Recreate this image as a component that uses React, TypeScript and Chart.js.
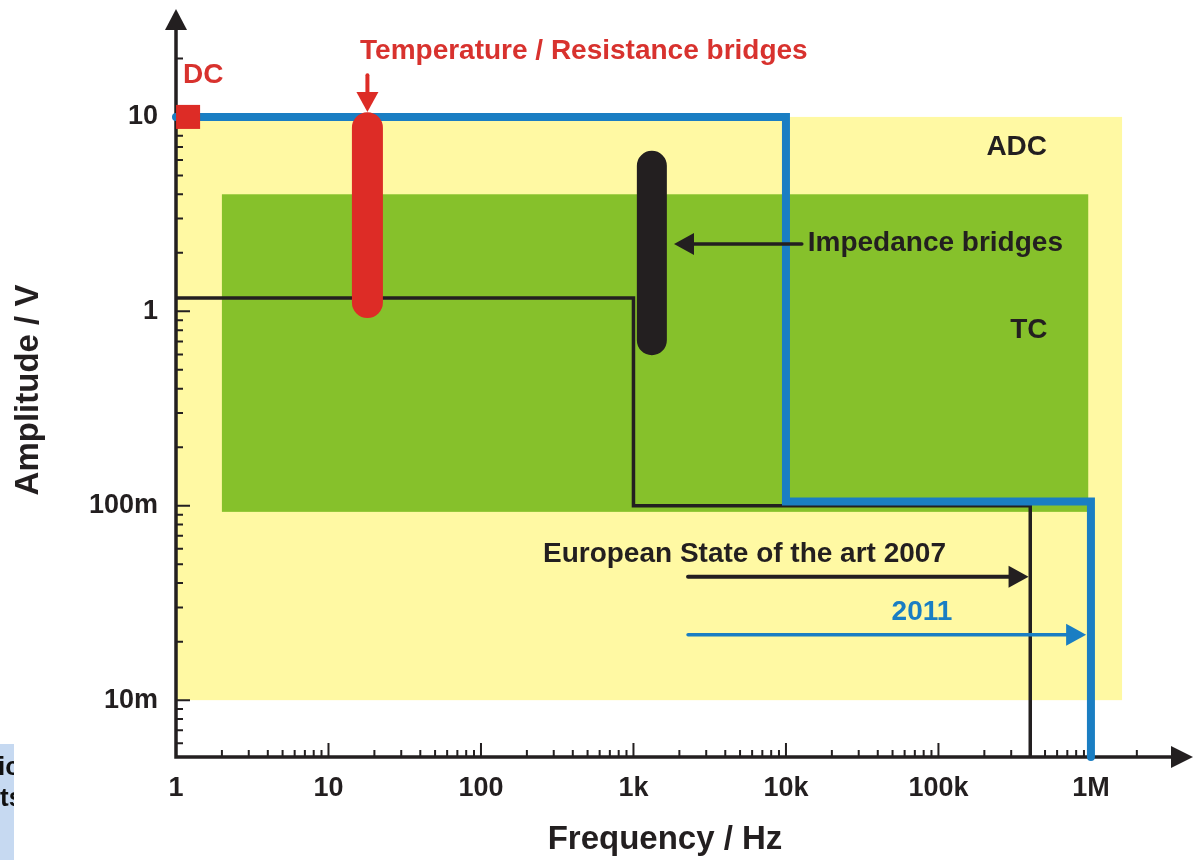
import React, { useEffect, useRef } from 'react';
import { Chart, registerables } from 'chart.js';

Chart.register(...registerables);

const FONT = '"Liberation Sans", Arial, Helvetica, sans-serif';
const INK = '#231f20';
const RED = '#dd2c26';
const RED_TEXT = '#d8322e';
const BLUE = '#1a7ec3';
const YELLOW = '#fff9a3';
const GREEN = '#86c12b';

// Axes
const xTickValues = [1, 10, 100, 1e3, 1e4, 1e5, 1e6];
const xTickLabels = ['1', '10', '100', '1k', '10k', '100k', '1M'];
const yTickValues = [0.01, 0.1, 1, 10];
const yTickLabels = ['10m', '100m', '1', '10'];
const xRange = [1, 4.67e6];
const yRange = [0.0051, 35.9];

// Regions (frequency / amplitude extents)
const adcFreq = [1, 1.6e6];
const adcAmp = [0.01, 10];
const tcFreq = [2, 0.96e6];
const tcAmp = [0.093, 4];

// Capability limits (step lines)
const limit2011Freq = [1, 1e4, 1e4, 1e6, 1e6];
const limit2011Amp = [10, 10, 0.105, 0.105, yRange[0]];
const limit2007Freq = [1, 1e3, 1e3, 4e5, 4e5];
const limit2007Amp = [1.17, 1.17, 0.1, 0.1, yRange[0]];

// Bridges and DC
const tempBridgeFreq = [18, 18];
const tempBridgeAmp = [8.8, 1.11];
const impBridgeFreq = [1320, 1320];
const impBridgeAmp = [5.6, 0.71];
const dcFreq = [1.2];
const dcAmp = [10];

// Annotation texts anchored in data coordinates
const noteTexts = ['Temperature / Resistance bridges', 'DC', 'ADC', 'Impedance bridges', 'TC', 'European State of the art 2007', '2011'];
const noteFreq = [16.1, 1.11, 3.26e5, 1.39e4, 3.92e5, 255, 7.8e4];
const noteAmp = [21.8, 16.4, 6.97, 2.24, 0.8, 0.0565, 0.0282];
const noteAlign: CanvasTextAlign[] = ['left', 'left', 'center', 'left', 'center', 'left', 'center'];
const noteColor = [RED_TEXT, RED_TEXT, INK, INK, INK, INK, BLUE];

// Arrows: from (freq, amp) to (freq, amp)
const arrowFromFreq = [18, 1.27e4, 2.28e3, 2.28e3];
const arrowFromAmp = [16.4, 2.22, 0.0431, 0.0217];
const arrowToFreq = [18, 1845, 3.9e5, 9.3e5];
const arrowToAmp = [10.6, 2.22, 0.0431, 0.0217];
const arrowColor = [RED, INK, INK, BLUE];
const arrowWidth = [4, 3.5, 4, 3.5];

const pts = (xs: number[], ys: number[]) => xs.map((x, i) => ({ x, y: ys[i] }));

const zeroPad = (s: any) => {
  s.paddingTop = 0;
  s.paddingBottom = 0;
  s.paddingLeft = 0;
  s.paddingRight = 0;
};

const decor = {
  id: 'decor',
  beforeDatasetsDraw(chart: any) {
    const { ctx, chartArea, scales } = chart;
    const { left, right, top, bottom } = chartArea;
    const x = scales.x;
    const y = scales.y;
    ctx.save();
    const rect = (fx: number[], fa: number[], color: string) => {
      const x1 = x.getPixelForValue(fx[0]);
      const x2 = x.getPixelForValue(fx[1]);
      const y1 = y.getPixelForValue(fa[1]);
      const y2 = y.getPixelForValue(fa[0]);
      ctx.fillStyle = color;
      ctx.fillRect(x1, y1, x2 - x1, y2 - y1);
    };
    rect(adcFreq, adcAmp, YELLOW);
    rect(tcFreq, tcAmp, GREEN);

    ctx.strokeStyle = INK;
    ctx.fillStyle = INK;
    ctx.lineWidth = 3.5;
    ctx.lineJoin = 'miter';
    ctx.beginPath();
    ctx.moveTo(left, top + 18);
    ctx.lineTo(left, bottom);
    ctx.lineTo(right - 18, bottom);
    ctx.stroke();
    ctx.beginPath();
    ctx.moveTo(left, top);
    ctx.lineTo(left - 11, top + 21);
    ctx.lineTo(left + 11, top + 21);
    ctx.closePath();
    ctx.fill();
    ctx.beginPath();
    ctx.moveTo(right, bottom);
    ctx.lineTo(right - 22, bottom - 11);
    ctx.lineTo(right - 22, bottom + 11);
    ctx.closePath();
    ctx.fill();

    ctx.lineWidth = 2;
    ctx.beginPath();
    for (let d = -4; d <= 8; d++) {
      for (let m = 1; m <= 9; m++) {
        const v = m * Math.pow(10, d);
        const len = m === 1 ? 14 : 7;
        const px = x.getPixelForValue(v);
        if (px > left + 0.5 && px < right - 35) {
          ctx.moveTo(px, bottom);
          ctx.lineTo(px, bottom - len);
        }
        const py = y.getPixelForValue(v);
        if (py > top + 26 && py < bottom - 3) {
          ctx.moveTo(left, py);
          ctx.lineTo(left + len, py);
        }
      }
    }
    ctx.stroke();
    ctx.restore();
  },
  afterDatasetsDraw(chart: any) {
    const { ctx, scales } = chart;
    const x = scales.x;
    const y = scales.y;
    ctx.save();
    for (let i = 0; i < arrowFromFreq.length; i++) {
      const x0 = x.getPixelForValue(arrowFromFreq[i]);
      const y0 = y.getPixelForValue(arrowFromAmp[i]);
      const x1 = x.getPixelForValue(arrowToFreq[i]);
      const y1 = y.getPixelForValue(arrowToAmp[i]);
      const dx = x1 - x0;
      const dy = y1 - y0;
      const L = Math.hypot(dx, dy);
      const ux = dx / L;
      const uy = dy / L;
      const head = 20;
      const hw = 11;
      const bx = x1 - ux * head;
      const by = y1 - uy * head;
      ctx.strokeStyle = arrowColor[i];
      ctx.fillStyle = arrowColor[i];
      ctx.lineWidth = arrowWidth[i];
      ctx.lineCap = 'round';
      ctx.beginPath();
      ctx.moveTo(x0, y0);
      ctx.lineTo(bx + ux * 2, by + uy * 2);
      ctx.stroke();
      ctx.beginPath();
      ctx.moveTo(x1, y1);
      ctx.lineTo(bx - uy * hw, by + ux * hw);
      ctx.lineTo(bx + uy * hw, by - ux * hw);
      ctx.closePath();
      ctx.fill();
    }
    ctx.font = `bold 28px ${FONT}`;
    ctx.textBaseline = 'middle';
    for (let i = 0; i < noteTexts.length; i++) {
      ctx.fillStyle = noteColor[i];
      ctx.textAlign = noteAlign[i];
      ctx.fillText(noteTexts[i], x.getPixelForValue(noteFreq[i]), y.getPixelForValue(noteAmp[i]));
    }
    ctx.restore();
  },
  afterDraw(chart: any) {
    const { ctx } = chart;
    ctx.save();
    ctx.fillStyle = INK;
    ctx.font = `bold 33px ${FONT}`;
    ctx.textAlign = 'center';
    ctx.textBaseline = 'middle';
    ctx.fillText('Frequency / Hz', 665, 840);
    ctx.translate(29, 390);
    ctx.rotate(-Math.PI / 2);
    ctx.fillText('Amplitude / V', 0, 0);
    ctx.restore();

    ctx.save();
    ctx.beginPath();
    ctx.rect(0, 744, 14, 116);
    ctx.clip();
    ctx.fillStyle = '#c6d9f1';
    ctx.fillRect(0, 744, 14, 116);
    ctx.fillStyle = '#111';
    ctx.font = `bold 26px ${FONT}`;
    ctx.textAlign = 'left';
    ctx.textBaseline = 'alphabetic';
    ctx.fillText('ic', -2, 775);
    ctx.fillText('ts', 0, 806);
    ctx.restore();
  },
};

export default function App() {
  const ref = useRef<HTMLCanvasElement>(null);
  useEffect(() => {
    const canvas = ref.current;
    if (!canvas) return;
    const tickFont = { family: FONT, size: 27, weight: 'bold' as const };
    const chart = new Chart(canvas, {
      type: 'line',
      data: {
        datasets: [
          {
            label: 'DC',
            data: pts(dcFreq, dcAmp),
            showLine: false,
            pointStyle: 'rect',
            pointRadius: 17,
            pointHoverRadius: 17,
            pointBackgroundColor: RED,
            backgroundColor: RED,
            pointBorderWidth: 0,
            borderWidth: 0,
            order: 0,
            clip: false,
          } as any,
          {
            label: 'Impedance bridges',
            data: pts(impBridgeFreq, impBridgeAmp),
            borderColor: INK,
            borderWidth: 30,
            borderCapStyle: 'round',
            pointRadius: 0,
            order: 1,
            clip: false,
          } as any,
          {
            label: 'Temperature / Resistance bridges',
            data: pts(tempBridgeFreq, tempBridgeAmp),
            borderColor: RED,
            borderWidth: 31,
            borderCapStyle: 'round',
            pointRadius: 0,
            order: 2,
            clip: false,
          } as any,
          {
            label: '2011',
            data: pts(limit2011Freq, limit2011Amp),
            borderColor: BLUE,
            borderWidth: 8,
            borderJoinStyle: 'miter',
            borderCapStyle: 'round',
            pointRadius: 0,
            order: 3,
            clip: false,
          } as any,
          {
            label: 'European State of the art 2007',
            data: pts(limit2007Freq, limit2007Amp),
            borderColor: INK,
            borderWidth: 3.5,
            borderJoinStyle: 'miter',
            borderCapStyle: 'butt',
            pointRadius: 0,
            order: 4,
            clip: false,
          } as any,
        ],
      },
      options: {
        animation: false,
        responsive: true,
        maintainAspectRatio: false,
        events: [],
        layout: { autoPadding: false, padding: { top: 9, right: 1, left: 0, bottom: 0 } },
        plugins: { legend: { display: false }, tooltip: { enabled: false } },
        scales: {
          x: {
            type: 'logarithmic',
            min: xRange[0],
            max: xRange[1],
            grid: { display: false, drawTicks: false, tickLength: 0 },
            border: { display: false },
            afterBuildTicks: (s: any) => {
              s.ticks = xTickValues.map((v) => ({ value: v }));
            },
            afterFit: (s: any) => {
              s.height = 103;
              zeroPad(s);
            },
            ticks: {
              autoSkip: false,
              maxRotation: 0,
              minRotation: 0,
              padding: 15,
              color: INK,
              font: tickFont,
              callback: (_v: any, i: number) => xTickLabels[i],
            },
          },
          y: {
            type: 'logarithmic',
            min: yRange[0],
            max: yRange[1],
            grid: { display: false, drawTicks: false, tickLength: 0 },
            border: { display: false },
            afterBuildTicks: (s: any) => {
              s.ticks = yTickValues.map((v) => ({ value: v }));
            },
            afterFit: (s: any) => {
              s.width = 176;
              zeroPad(s);
            },
            ticks: {
              autoSkip: false,
              padding: 18,
              color: INK,
              font: tickFont,
              callback: (_v: any, i: number) => yTickLabels[i],
            },
          },
        },
      } as any,
      plugins: [decor],
    });
    return () => chart.destroy();
  }, []);

  return (
    <div style={{ position: 'fixed', left: 0, top: 0, width: 1194, height: 860, background: '#fff' }}>
      <canvas ref={ref} />
    </div>
  );
}
